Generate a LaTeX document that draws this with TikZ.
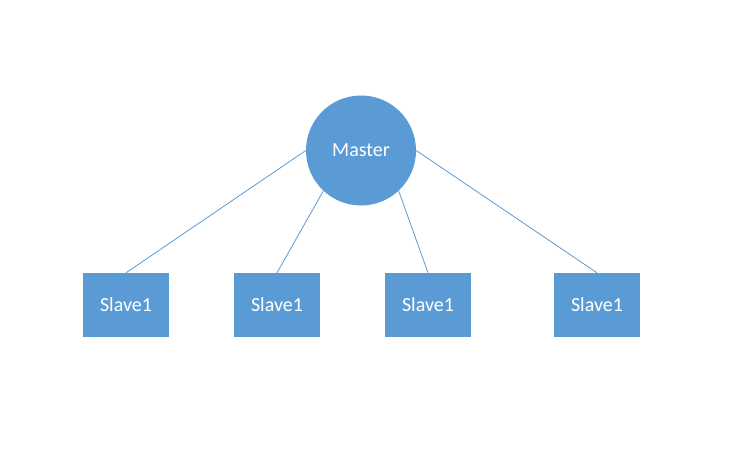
\documentclass[tikz,border=0pt]{standalone}
\usepackage{fontspec}
\setmainfont{Carlito}
\definecolor{officeblue}{HTML}{5B9BD5}
\begin{document}
\begin{tikzpicture}[x=1pt,y=-1pt,
  masternode/.style={circle,fill=officeblue,draw=none,minimum size=110pt,inner sep=0pt,text=white,font=\fontsize{20}{24}\selectfont},
  slavenode/.style={rectangle,fill=officeblue,draw=none,minimum width=86pt,minimum height=64pt,inner sep=0pt,text=white,font=\fontsize{20}{24}\selectfont},
  link/.style={draw=officeblue,line width=0.8pt}]
\useasboundingbox (0,0) rectangle (754,460);
\node[masternode] (m) at (361,150.5) {Master};
\node[slavenode] (s1) at (126,305) {Slave1};
\node[slavenode] (s2) at (277,305) {Slave1};
\node[slavenode] (s3) at (428,305) {Slave1};
\node[slavenode] (s4) at (597,305) {Slave1};
\draw[link] (m.west) -- (s1.north);
\draw[link] (m.227) -- (s2.north);
\draw[link] (m.-47) -- (s3.north);
\draw[link] (m.east) -- (s4.north);
\end{tikzpicture}
\end{document}
